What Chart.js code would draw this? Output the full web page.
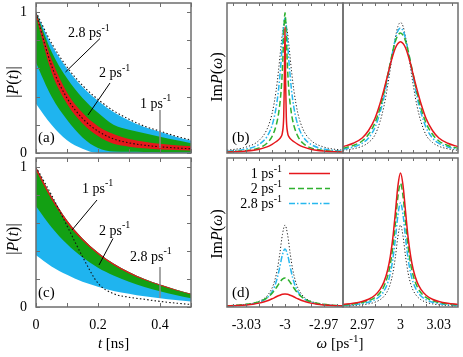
<!DOCTYPE html>
<html>
<head>
<meta charset="utf-8">
<script src="https://cdn.jsdelivr.net/npm/chart.js@4/dist/chart.umd.min.js"></script>
<style>
html, body { margin: 0; padding: 0; background: #fff; }
#wrap { position: relative; width: 463px; height: 357px; overflow: hidden; }
#wrap canvas { position: absolute; left: 0; top: 0; }
</style>
</head>
<body>
<div id="wrap">
<canvas id="cA" width="463" height="357"></canvas>
<canvas id="cC" width="463" height="357"></canvas>
<canvas id="cBL" width="463" height="357"></canvas>
<canvas id="cBR" width="463" height="357"></canvas>
<canvas id="cDL" width="463" height="357"></canvas>
<canvas id="cDR" width="463" height="357"></canvas>
</div>
<script>
// --- time panels (a), (c): |P(t)| envelopes ---
const tGrid = [0, 0.05, 0.1, 0.15, 0.2, 0.25, 0.3, 0.35, 0.4, 0.45, 0.5];

const aBlueHi  = [1.00, 0.77, 0.60, 0.47, 0.37, 0.29, 0.23, 0.185, 0.15, 0.115, 0.088];
const aBlueLo  = [0.35, 0.20, 0.09, 0.03, 0.00, 0.00, 0.00, 0.00, 0.00, 0.00, 0.00];
const aGreenHi = [1.00, 0.72, 0.53, 0.39, 0.285, 0.20, 0.165, 0.14, 0.115, 0.092, 0.07];
const aGreenLo = [0.64, 0.40, 0.235, 0.11, 0.035, 0.01, 0.008, 0.007, 0.006, 0.006, 0.006];
const aRedHi   = [1.00, 0.665, 0.43, 0.285, 0.19, 0.135, 0.10, 0.08, 0.065, 0.055, 0.047];
const aRedLo   = [0.97, 0.575, 0.35, 0.21, 0.12, 0.065, 0.045, 0.033, 0.025, 0.021, 0.018];
const aDotTop  = [1.00, 0.78, 0.61, 0.48, 0.38, 0.30, 0.24, 0.19, 0.155, 0.12, 0.092];
const aDotMid  = [0.99, 0.62, 0.39, 0.245, 0.155, 0.10, 0.072, 0.055, 0.044, 0.036, 0.03];

const cTop     = [1.00, 0.79, 0.62, 0.49, 0.39, 0.31, 0.25, 0.20, 0.16, 0.125, 0.095];
const cRedLo   = [0.975, 0.77, 0.60, 0.475, 0.377, 0.30, 0.24, 0.192, 0.153, 0.119, 0.09];
const cGreenLo = [0.72, 0.57, 0.45, 0.355, 0.28, 0.225, 0.18, 0.143, 0.113, 0.086, 0.063];
const cBlueLo  = [0.37, 0.29, 0.23, 0.18, 0.145, 0.115, 0.095, 0.076, 0.062, 0.05, 0.04];
const cDot     = [1.00, 0.80, 0.58, 0.36, 0.17, 0.095, 0.07, 0.055, 0.04, 0.028, 0.018];

// --- spectra (b), (d): offsets from the peak centre and peak profiles ---
const offsNarrow = [0, 0.0005, 0.001, 0.002, 0.003, 0.005, 0.007, 0.01, 0.014, 0.02, 0.03, 0.045];
const offsWide   = [0, 0.002, 0.004, 0.006, 0.008, 0.01, 0.013, 0.016, 0.02, 0.025, 0.03, 0.037, 0.045];

const bLeftRed   = [0.84, 0.467, 0.243, 0.136, 0.109, 0.088, 0.075, 0.058, 0.041, 0.025, 0.013, 0.006];
const bLeftGreen = [0.935, 0.887, 0.778, 0.559, 0.417, 0.263, 0.18, 0.111, 0.065, 0.034, 0.016, 0.007];
const bLeftCyan  = [0.90, 0.886, 0.849, 0.735, 0.615, 0.424, 0.298, 0.185, 0.109, 0.058, 0.027, 0.012];
const bLeftBlack = [0.87, 0.865, 0.851, 0.797, 0.721, 0.552, 0.41, 0.264, 0.158, 0.085, 0.04, 0.018];

const bRightRed   = [0.742, 0.73, 0.70, 0.65, 0.59, 0.52, 0.42, 0.33, 0.23, 0.15, 0.10, 0.065, 0.042];
const bRightGreen = [0.80, 0.785, 0.745, 0.68, 0.60, 0.52, 0.40, 0.30, 0.20, 0.125, 0.08, 0.05, 0.032];
const bRightCyan  = [0.833, 0.815, 0.76, 0.68, 0.59, 0.50, 0.37, 0.27, 0.17, 0.10, 0.065, 0.04, 0.025];
const bRightBlack = [0.87, 0.845, 0.77, 0.67, 0.56, 0.45, 0.31, 0.21, 0.12, 0.07, 0.045, 0.028, 0.018];

const dLeftRed   = [0.087, 0.085, 0.079, 0.072, 0.063, 0.055, 0.0435, 0.035, 0.026, 0.0185, 0.014, 0.0096, 0.0067];
const dLeftGreen = [0.195, 0.187, 0.166, 0.139, 0.114, 0.092, 0.068, 0.051, 0.036, 0.025, 0.018, 0.012, 0.008];
const dLeftCyan  = [0.39, 0.351, 0.27, 0.195, 0.140, 0.103, 0.069, 0.048, 0.032, 0.021, 0.015, 0.010, 0.007];
const dLeftBlack = [0.55, 0.486, 0.36, 0.251, 0.177, 0.128, 0.084, 0.058, 0.039, 0.025, 0.018, 0.012, 0.008];

const dRightRed   = [0.90, 0.815, 0.635, 0.464, 0.338, 0.25, 0.167, 0.118, 0.079, 0.052, 0.037, 0.025, 0.017];
const dRightGreen = [0.83, 0.742, 0.563, 0.401, 0.286, 0.209, 0.138, 0.096, 0.064, 0.042, 0.030, 0.020, 0.0135];
const dRightCyan  = [0.70, 0.618, 0.458, 0.32, 0.225, 0.162, 0.106, 0.074, 0.049, 0.032, 0.023, 0.015, 0.010];
const dRightBlack = [0.55, 0.474, 0.336, 0.226, 0.155, 0.11, 0.071, 0.049, 0.032, 0.021, 0.015, 0.010, 0.0066];

// tick labels and tick marks
const tLabels = [0, 0.2, 0.4];
const pLabels = [0, 1];
const tTicks = [0, 0.1, 0.2, 0.3, 0.4, 0.5];
const pTicks = [0, 0.2, 0.4, 0.6, 0.8, 1];
const wLeftLabels = [-3.03, -3, -2.97];
const wRightLabels = [2.97, 3, 3.03];
const wLeftTicks = [-3.04, -3.03, -3.02, -3.01, -3, -2.99, -2.98, -2.97, -2.96];
const wRightTicks = [2.96, 2.97, 2.98, 2.99, 3, 3.01, 3.02, 3.03, 3.04];

const W = 463, H = 357;
const FAM = '"Liberation Serif", "DejaVu Serif", serif';
const GRAY = '#6e6e6e';
const RED = '#e5171c', GREEN = '#13a013', GREENLINE = '#2fb12f', BLUE = '#1fb4ef', CYAN = '#27b8ee';

function pts(xs, ys) { return xs.map((x, i) => ({ x: x, y: ys[i] })); }

// mirror a peak profile read from one side around its centre
function peak(center, offs, vals) {
    const out = [];
    for (let i = offs.length - 1; i > 0; i--) out.push({ x: center - offs[i], y: vals[i] });
    for (let i = 0; i < offs.length; i++) out.push({ x: center + offs[i], y: vals[i] });
    return out;
}

function band(hi, lo, color, order) {
    return [
        { data: pts(tGrid, hi), borderWidth: 0, borderColor: 'rgba(0,0,0,0)', backgroundColor: color, fill: '+1', order: order },
        { data: pts(tGrid, lo), borderWidth: 0, borderColor: 'rgba(0,0,0,0)', fill: false, order: order }
    ];
}

function dotted(ys) {
    return { data: pts(tGrid, ys), borderColor: '#111', borderWidth: 1.1, borderDash: [1.5, 2.2], fill: false, order: 0 };
}

function spectra(center, offs, red, green, cyan, black) {
    return [
        { data: peak(center, offs, red), borderColor: RED, borderWidth: 1.5, fill: false, order: 0 },
        { data: peak(center, offs, green), borderColor: GREENLINE, borderWidth: 1.5, borderDash: [6, 3], fill: false, order: 1 },
        { data: peak(center, offs, cyan), borderColor: CYAN, borderWidth: 1.5, borderDash: [6, 2, 1.5, 2], fill: false, order: 2 },
        { data: peak(center, offs, black), borderColor: '#222', borderWidth: 1, borderDash: [1.2, 2], fill: false, order: 3 }
    ];
}

// text with italic parts and superscripts, parts = [[text, 'r'|'i'|'s'], ...]
function rich(ctx, x, y, parts, align, size) {
    size = size || 14;
    const fontOf = p => p[1] === 'i' ? 'italic ' + size + 'px ' + FAM : p[1] === 's' ? Math.round(size * 0.72) + 'px ' + FAM : size + 'px ' + FAM;
    const widths = parts.map(p => { ctx.font = fontOf(p); return ctx.measureText(p[0]).width; });
    const total = widths.reduce((a, b) => a + b, 0);
    let cx = align === 'center' ? x - total / 2 : align === 'right' ? x - total : x;
    ctx.fillStyle = '#000';
    ctx.textBaseline = 'alphabetic';
    ctx.textAlign = 'left';
    parts.forEach((p, i) => {
        ctx.font = fontOf(p);
        ctx.fillText(p[0], cx, p[1] === 's' ? y - 6.5 : y);
        cx += widths[i];
    });
}

function vtitle(ctx, cx, cy, parts) {
    ctx.save();
    ctx.translate(cx, cy);
    ctx.rotate(-Math.PI / 2);
    rich(ctx, 0, 5.5, parts, 'center', 16);
    ctx.restore();
}

function seg(ctx, x1, y1, x2, y2, color, w) {
    ctx.strokeStyle = color;
    ctx.lineWidth = w;
    ctx.beginPath();
    ctx.moveTo(x1, y1);
    ctx.lineTo(x2, y2);
    ctx.stroke();
}

const psInv = [[' ps', 'r'], ['-1', 's']];
const PT = [['|', 'r'], ['P', 'i'], ['(', 'r'], ['t', 'i'], [')', 'r'], ['|', 'r']];
const IMP = [['Im', 'r'], ['P', 'i'], ['(', 'r'], ['\u03c9', 'i'], [')', 'r']];

// inward gnuplot style ticks + frame, then panel text
function frame(xTicks, yTicks, len, extra) {
    return {
        id: 'gframe',
        afterDraw(chart) {
            const ctx = chart.ctx, a = chart.chartArea, sx = chart.scales.x, sy = chart.scales.y;
            ctx.save();
            ctx.strokeStyle = GRAY;
            ctx.lineWidth = 1;
            ctx.beginPath();
            xTicks.forEach(v => {
                const p = Math.round(sx.getPixelForValue(v)) + 0.5;
                ctx.moveTo(p, a.bottom); ctx.lineTo(p, a.bottom - len);
                ctx.moveTo(p, a.top); ctx.lineTo(p, a.top + len);
            });
            yTicks.forEach(v => {
                const p = Math.round(sy.getPixelForValue(v)) + 0.5;
                ctx.moveTo(a.left, p); ctx.lineTo(a.left + len, p);
                ctx.moveTo(a.right, p); ctx.lineTo(a.right - len, p);
            });
            ctx.stroke();
            ctx.lineWidth = 1.5;
            ctx.strokeRect(a.left, a.top, a.right - a.left, a.bottom - a.top);
            ctx.restore();
            if (extra) { ctx.save(); extra(ctx); ctx.restore(); }
        }
    };
}

function makeChart(id, box, c) {
    const showX = !!c.xLabels, showY = !!c.yLabels;
    const yW = box.l, xH = H - box.b;
    const tickFont = { family: FAM, size: 14 };
    return new Chart(document.getElementById(id), {
        type: 'line',
        data: { datasets: c.datasets },
        options: {
            responsive: false,
            animation: false,
            devicePixelRatio: 1,
            events: [],
            layout: { padding: { left: showY ? 0 : box.l, top: box.t, right: W - box.r, bottom: showX ? 0 : H - box.b } },
            plugins: { legend: { display: false }, tooltip: { enabled: false } },
            elements: { point: { radius: 0 }, line: { cubicInterpolationMode: 'monotone' } },
            scales: {
                x: {
                    type: 'linear', min: c.xMin, max: c.xMax, display: showX,
                    grid: { display: false, drawTicks: false }, border: { display: false },
                    ticks: { padding: 10, color: '#000', font: tickFont, maxRotation: 0, autoSkip: false, callback: v => String(v) },
                    afterBuildTicks: s => { if (showX) s.ticks = c.xLabels.map(v => ({ value: v })); },
                    afterFit: s => {
                        if (!showX) return;
                        s.height = xH; s.paddingLeft = 0; s.paddingRight = 0; s.paddingTop = 0; s.paddingBottom = 0;
                    }
                },
                y: {
                    type: 'linear', min: c.yMin, max: c.yMax, display: showY,
                    grid: { display: false, drawTicks: false }, border: { display: false },
                    ticks: { padding: 9, color: '#000', font: tickFont, callback: v => String(v) },
                    afterBuildTicks: s => { if (showY) s.ticks = c.yLabels.map(v => ({ value: v })); },
                    afterFit: s => {
                        if (!showY) return;
                        s.width = yW; s.paddingLeft = 0; s.paddingRight = 0; s.paddingTop = 0; s.paddingBottom = 0;
                    }
                }
            }
        },
        plugins: [frame(c.xTicks, c.yTicks, c.len, c.text)]
    });
}

const boxA = { l: 36, r: 191, t: 3, b: 153 };
const boxC = { l: 36, r: 191, t: 158, b: 307 };
const boxBL = { l: 227, r: 343, t: 3, b: 153 };
const boxBR = { l: 343, r: 458, t: 3, b: 153 };
const boxDL = { l: 227, r: 343, t: 158, b: 307 };
const boxDR = { l: 343, r: 458, t: 158, b: 307 };

// panel (a)
makeChart('cA', boxA, {
    datasets: [dotted(aDotTop), dotted(aDotMid)]
        .concat(band(aRedHi, aRedLo, RED, 10))
        .concat(band(aGreenHi, aGreenLo, GREEN, 20))
        .concat(band(aBlueHi, aBlueLo, BLUE, 30)),
    xMin: 0, xMax: 0.5, yMin: 0, yMax: 1.064,
    yLabels: pLabels, xTicks: tTicks, yTicks: pTicks, len: 4,
    text: ctx => {
        seg(ctx, 100, 38.5, 65.5, 72, '#000', 1);
        seg(ctx, 110, 83, 88, 115, '#000', 1);
        seg(ctx, 160, 110, 160, 148, '#888', 1.5);
        rich(ctx, 68, 37, [['2.8', 'r']].concat(psInv));
        rich(ctx, 99, 77, [['2', 'r']].concat(psInv));
        rich(ctx, 140, 107.5, [['1', 'r']].concat(psInv));
        rich(ctx, 38, 142, [['(a)', 'r']], 'left', 15);
        vtitle(ctx, 12, 82, PT);
    }
});

// panel (c)
makeChart('cC', boxC, {
    datasets: [dotted(cDot)]
        .concat(band(cTop, cRedLo, RED, 10))
        .concat(band(cTop, cGreenLo, GREEN, 20))
        .concat(band(cTop, cBlueLo, BLUE, 30)),
    xMin: 0, xMax: 0.5, yMin: 0, yMax: 1.064,
    xLabels: tLabels, yLabels: pLabels, xTicks: tTicks, yTicks: pTicks, len: 4,
    text: ctx => {
        seg(ctx, 97, 200, 72, 230, '#000', 1);
        seg(ctx, 113, 238.5, 99, 265, '#000', 1);
        seg(ctx, 160, 267, 160, 298, '#888', 1.5);
        rich(ctx, 82, 192.5, [['1', 'r']].concat(psInv));
        rich(ctx, 99, 234.5, [['2', 'r']].concat(psInv));
        rich(ctx, 130, 260.5, [['2.8', 'r']].concat(psInv));
        rich(ctx, 38, 297, [['(c)', 'r']], 'left', 15);
        vtitle(ctx, 12, 239, PT);
        rich(ctx, 113.5, 348, [['t', 'i'], [' [ns]', 'r']], 'center', 15);
    }
});

// panel (b)
makeChart('cBL', boxBL, {
    datasets: spectra(-3, offsNarrow, bLeftRed, bLeftGreen, bLeftCyan, bLeftBlack),
    xMin: -3.045, xMax: -2.955, yMin: 0, yMax: 1,
    xTicks: wLeftTicks, yTicks: [], len: 3,
    text: ctx => {
        rich(ctx, 232, 142, [['(b)', 'r']], 'left', 15);
        vtitle(ctx, 216, 77, IMP);
    }
});
makeChart('cBR', boxBR, {
    datasets: spectra(3, offsWide, bRightRed, bRightGreen, bRightCyan, bRightBlack),
    xMin: 2.955, xMax: 3.045, yMin: 0, yMax: 1,
    xTicks: wRightTicks, yTicks: [], len: 3
});

// panel (d)
makeChart('cDL', boxDL, {
    datasets: spectra(-3, offsWide, dLeftRed, dLeftGreen, dLeftCyan, dLeftBlack),
    xMin: -3.045, xMax: -2.955, yMin: 0, yMax: 1,
    xLabels: wLeftLabels, xTicks: wLeftTicks, yTicks: [], len: 3,
    text: ctx => {
        rich(ctx, 232, 297, [['(d)', 'r']], 'left', 15);
        vtitle(ctx, 216, 234, IMP);
        // key
        rich(ctx, 282, 178, [['1', 'r']].concat(psInv), 'right');
        rich(ctx, 282, 193, [['2', 'r']].concat(psInv), 'right');
        rich(ctx, 282, 208, [['2.8', 'r']].concat(psInv), 'right');
        ctx.lineWidth = 1.5;
        ctx.strokeStyle = RED; ctx.setLineDash([]);
        ctx.beginPath(); ctx.moveTo(289, 173.5); ctx.lineTo(330, 173.5); ctx.stroke();
        ctx.strokeStyle = GREENLINE; ctx.setLineDash([6, 3]);
        ctx.beginPath(); ctx.moveTo(289, 188.5); ctx.lineTo(330, 188.5); ctx.stroke();
        ctx.strokeStyle = CYAN; ctx.setLineDash([6, 2, 1.5, 2]);
        ctx.beginPath(); ctx.moveTo(289, 203.5); ctx.lineTo(330, 203.5); ctx.stroke();
        ctx.setLineDash([]);
        rich(ctx, 340, 348, [['\u03c9', 'i'], [' [ps', 'r'], ['-1', 's'], [']', 'r']], 'center', 15);
    }
});
makeChart('cDR', boxDR, {
    datasets: spectra(3, offsWide, dRightRed, dRightGreen, dRightCyan, dRightBlack),
    xMin: 2.955, xMax: 3.045, yMin: 0, yMax: 1,
    xLabels: wRightLabels, xTicks: wRightTicks, yTicks: [], len: 3
});
</script>
</body>
</html>
